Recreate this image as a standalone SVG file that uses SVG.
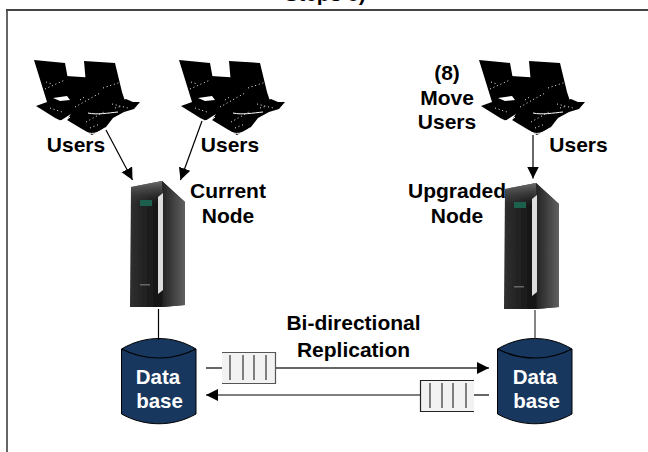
<svg xmlns="http://www.w3.org/2000/svg" width="648" height="452" viewBox="0 0 648 452">
<style>
text{font-family:"Liberation Sans",Arial,sans-serif;font-weight:700;font-size:21px;fill:#000;text-anchor:middle}
text.s{font-size:20.5px}
.w{fill:#fff}
.c{stroke:#000;stroke-width:1.2;fill:none}
.g{stroke:#666;stroke-width:2;fill:none}
.q{fill:#f2f2f2}
.t{stroke:#333;stroke-width:1.2}
.db{fill:#17375e;stroke:#000;stroke-width:1}
</style>
<defs>
<filter id="b" x="-5%" y="-5%" width="110%" height="110%"><feGaussianBlur stdDeviation="0.45"/></filter>
<marker id="a" markerWidth="13" markerHeight="13" refX="12" refY="6" orient="auto" markerUnits="userSpaceOnUse"><path d="M0 0L12 6L0 12z" fill="#000"/></marker>
<linearGradient id="s1" x1="0" x2="1" y1="0" y2="0"><stop offset="0" stop-color="#303030"/><stop offset=".5" stop-color="#151515"/><stop offset="1" stop-color="#333"/></linearGradient>
<linearGradient id="s2" x1="0" x2="1" y1="0" y2="0"><stop offset="0" stop-color="#222"/><stop offset="1" stop-color="#606060"/></linearGradient>
<linearGradient id="s3" x1="0" x2="0" y1="0" y2="1"><stop offset="0" stop-color="#777" stop-opacity=".9"/><stop offset="1" stop-color="#333" stop-opacity="0"/></linearGradient>
<g id="lap" filter="url(#b)">
<path d="M34 60L65 63L74 112L60 121L36 106L47 102Z" fill="#000"/>
<path d="M84 61L115 63L122 92L125 101L100 108L86 84Z" fill="#000"/>
<path d="M66 76L97 78L101 104L120 101L126 99L133 102L140 102L134 109L124 112L113 118L106 127L92 135L67 120L72 112L62 100Z" fill="#000"/>
<path d="M53 98L67 96L70 100L60 101Z" fill="#fff"/>
<path d="M88 113C97 115 108 113 118 112" stroke="#fff" fill="none" stroke-width="1"/>
<path d="M56 119C61 122 66 121 70 117M84 131C90 135 98 134 105 128" stroke="#fff" fill="none" stroke-width="1"/>
<g fill="none" stroke="#eee" stroke-width="1" stroke-dasharray="1 2.800">
<path d="M45 89L65 80M75 107L100 93M103 88L121 82"/>
<path d="M50 108L62 112M86 122L104 112M112 104L128 108M46 82L52 84M80 100L86 96M90 128L100 124M115 108L122 106"/>
</g>
</g>
<g id="srv" filter="url(#b)">
<path d="M131 187L162 181L185 202L185 305L162 307L130 307Z" fill="url(#s1)"/>
<path d="M162 181L185 202L185 305L163 307L163 200Z" fill="url(#s2)"/>
<path d="M131 187L162 181L163 205L131 205Z" fill="url(#s3)"/>
<path d="M158 197L163 193L163 290L158 294Z" fill="#ddd"/>
<rect x="140" y="200" width="12" height="6" fill="#1d5f4d"/>
<rect x="140" y="284" width="10" height="1.500" fill="#666"/>
</g>
<g id="cyl">
<path class="db" d="M121.500 349C145 335 173 335 196 349V414C173 427 145 427 121.500 414Z"/>
<path d="M121.500 349C145 361 173 361 196 349" fill="none" stroke="#000" stroke-width="1.200"/>
</g>
</defs>
<rect width="648" height="452" fill="#fff"/>
<path d="M7 452V10" fill="none" stroke="#666" stroke-width="2"/>
<path d="M6 10H648" fill="none" stroke="#444" stroke-width="2"/>
<text x="325" y="1">Steps 8)</text>
<g id="users-1"><use href="#lap"/><text x="76" y="152">Users</text></g>
<g id="users-2"><use href="#lap" x="145"/><text x="230" y="152">Users</text></g>
<g id="users-3"><use href="#lap" x="445"/><text x="578.500" y="152">Users</text></g>
<g id="move-users"><text x="447" y="80">(8)</text><text x="447" y="105">Move</text><text x="447" y="129">Users</text></g>
<g id="current-node"><use href="#srv"/><text x="228" y="198">Current</text><text x="228" y="223">Node</text></g>
<g id="upgraded-node"><use href="#srv" x="374" y="2"/><text x="457" y="198">Upgraded</text><text x="457" y="223">Node</text></g>
<g id="db-1"><use href="#cyl"/><text class="w s" x="158" y="384">Data</text><text class="w s" x="159.500" y="408">base</text></g>
<g id="db-2"><use href="#cyl" x="376"/><text class="w s" x="535" y="384">Data</text><text class="w s" x="536.500" y="408">base</text></g>
<g id="connectors">
<path class="c" d="M106 130L132.500 180" marker-end="url(#a)"/>
<path class="c" d="M202 121L180.500 180" marker-end="url(#a)"/>
<path class="c" d="M533 135V178.500" marker-end="url(#a)"/>
<path class="c" d="M158.500 309V340"/>
<path class="c" style="stroke:#333" d="M535 310V340"/>
<path class="g" d="M206 368H222"/>
<path class="g" d="M276 368H489" marker-end="url(#a)"/>
<path class="c" d="M474 395H489"/>
<path class="c" d="M420 395H206" marker-end="url(#a)"/>
</g>
<g id="queue-1">
<rect class="q" x="222" y="352" width="53.500" height="31.500"/>
<path d="M222 352.500H275.500V383.500H222" fill="none" stroke="#555" stroke-width="1.200"/>
<path class="t" d="M230 355V380M243 355V380M254 355V380M266 355V380"/>
</g>
<g id="queue-2">
<rect class="q" x="420" y="380" width="54" height="31.500"/>
<path d="M474 380.500H420.500V411.500H474" fill="none" stroke="#222" stroke-width="1.200"/>
<path class="t" d="M430 383V408M442 383V408M453 383V408M466 383V408"/>
</g>
<g id="replication-label"><text x="353.500" y="330">Bi-directional</text><text x="353.500" y="357">Replication</text></g>
</svg>
